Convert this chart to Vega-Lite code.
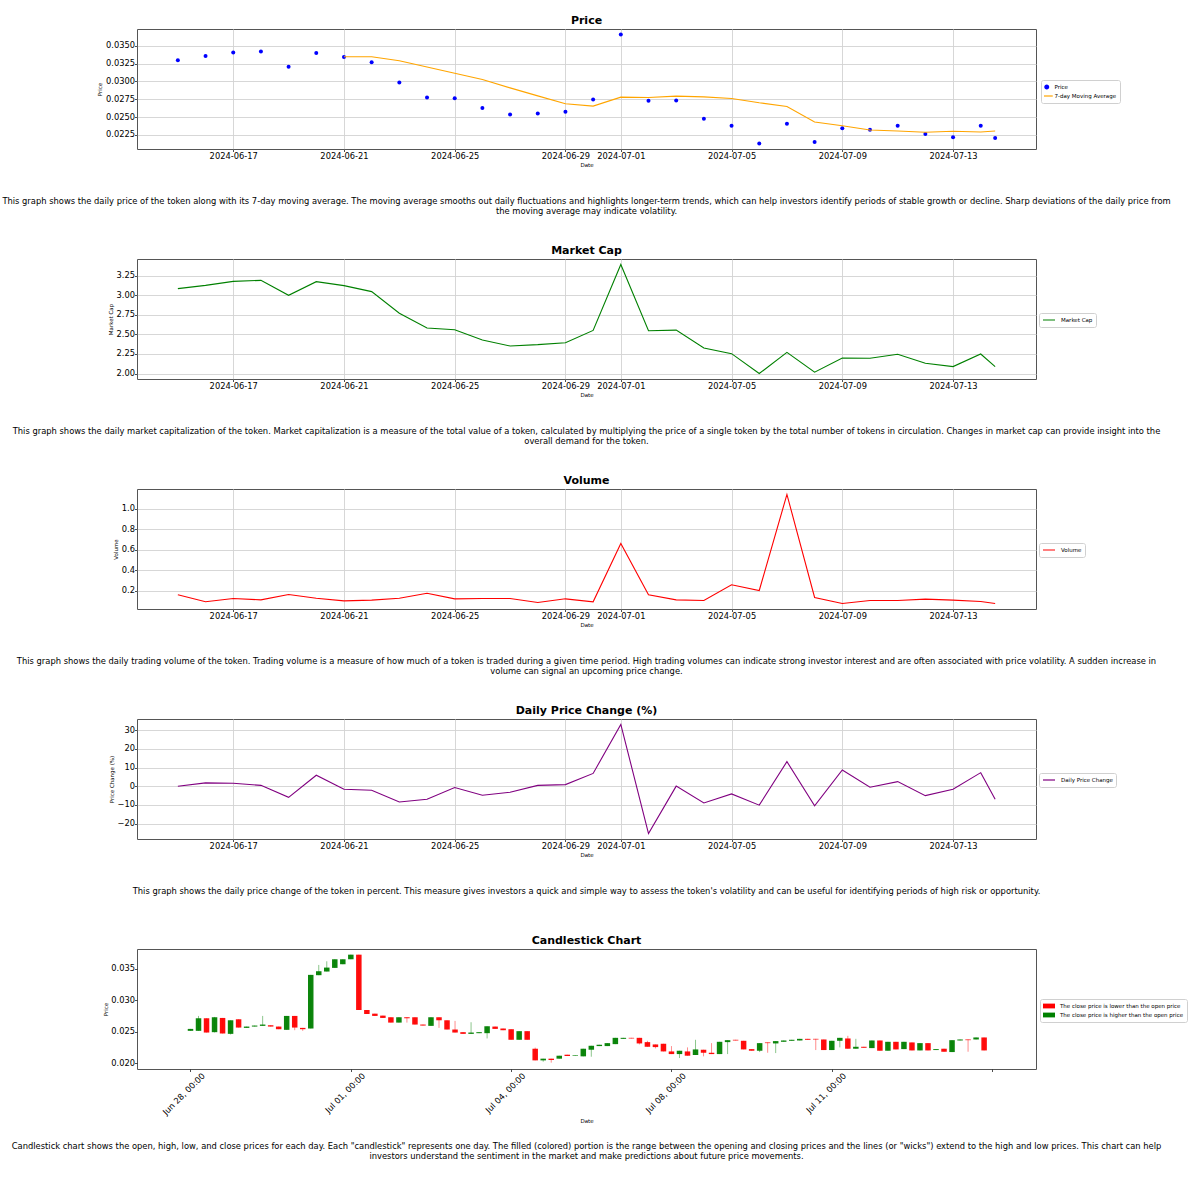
{
  "$schema": "https://vega.github.io/schema/vega-lite/v6.json",
  "padding": {"left": 2, "top": 14, "right": 5, "bottom": 5},
  "background": "white",
  "bounds": "flush",
  "spacing": 50,
  "resolve": {"scale": {"color": "independent", "x": "independent", "y": "independent"}, "legend": {"color": "independent"}, "axis": {"x": "independent", "y": "independent"}},
  "datasets": {
    "daily": [
      {"date": "2024-06-15T00:00:00Z", "price": 0.03296, "ma": null, "mcap": 30850000, "volume": 161000, "change": 0},
      {"date": "2024-06-16T00:00:00Z", "price": 0.03356, "ma": null, "mcap": 31270000, "volume": 93000, "change": 1.8},
      {"date": "2024-06-17T00:00:00Z", "price": 0.03407, "ma": null, "mcap": 31780000, "volume": 125000, "change": 1.6},
      {"date": "2024-06-18T00:00:00Z", "price": 0.03421, "ma": null, "mcap": 31910000, "volume": 112000, "change": 0.5},
      {"date": "2024-06-19T00:00:00Z", "price": 0.03207, "ma": null, "mcap": 30000000, "volume": 164000, "change": -5.9},
      {"date": "2024-06-20T00:00:00Z", "price": 0.03398, "ma": null, "mcap": 31740000, "volume": 128000, "change": 5.9},
      {"date": "2024-06-21T00:00:00Z", "price": 0.03342, "ma": 0.03347, "mcap": 31230000, "volume": 102000, "change": -1.6},
      {"date": "2024-06-22T00:00:00Z", "price": 0.03268, "ma": 0.03347, "mcap": 30470000, "volume": 109000, "change": -2.1},
      {"date": "2024-06-23T00:00:00Z", "price": 0.02984, "ma": 0.03291, "mcap": 27710000, "volume": 128000, "change": -8.4},
      {"date": "2024-06-24T00:00:00Z", "price": 0.02775, "ma": 0.03203, "mcap": 25810000, "volume": 177000, "change": -6.9},
      {"date": "2024-06-25T00:00:00Z", "price": 0.02766, "ma": 0.03114, "mcap": 25590000, "volume": 122000, "change": -0.7},
      {"date": "2024-06-26T00:00:00Z", "price": 0.02626, "ma": 0.03026, "mcap": 24280000, "volume": 125000, "change": -4.8},
      {"date": "2024-06-27T00:00:00Z", "price": 0.02538, "ma": 0.0291, "mcap": 23520000, "volume": 125000, "change": -3.2},
      {"date": "2024-06-28T00:00:00Z", "price": 0.02552, "ma": 0.02798, "mcap": 23690000, "volume": 86000, "change": 0.5},
      {"date": "2024-06-29T00:00:00Z", "price": 0.02575, "ma": 0.02687, "mcap": 23940000, "volume": 122000, "change": 0.9},
      {"date": "2024-06-30T00:00:00Z", "price": 0.02747, "ma": 0.02654, "mcap": 25510000, "volume": 93000, "change": 6.9},
      {"date": "2024-07-01T00:00:00Z", "price": 0.03658, "ma": 0.0278, "mcap": 33940000, "volume": 662000, "change": 33.1},
      {"date": "2024-07-02T00:00:00Z", "price": 0.02729, "ma": 0.02775, "mcap": 25470000, "volume": 161000, "change": -25.3},
      {"date": "2024-07-03T00:00:00Z", "price": 0.02733, "ma": 0.02794, "mcap": 25550000, "volume": 112000, "change": 0.1},
      {"date": "2024-07-04T00:00:00Z", "price": 0.02478, "ma": 0.02784, "mcap": 23260000, "volume": 106000, "change": -8.9},
      {"date": "2024-07-05T00:00:00Z", "price": 0.0238, "ma": 0.02761, "mcap": 22540000, "volume": 259000, "change": -4.1},
      {"date": "2024-07-06T00:00:00Z", "price": 0.02129, "ma": 0.02701, "mcap": 20000000, "volume": 203000, "change": -10.1},
      {"date": "2024-07-07T00:00:00Z", "price": 0.02408, "ma": 0.0265, "mcap": 22710000, "volume": 1140000, "change": 13.2},
      {"date": "2024-07-08T00:00:00Z", "price": 0.02152, "ma": 0.02431, "mcap": 20170000, "volume": 135000, "change": -10.5},
      {"date": "2024-07-09T00:00:00Z", "price": 0.02343, "ma": 0.0238, "mcap": 21990000, "volume": 76000, "change": 8.7},
      {"date": "2024-07-10T00:00:00Z", "price": 0.02324, "ma": 0.0232, "mcap": 21950000, "volume": 106000, "change": -0.5},
      {"date": "2024-07-11T00:00:00Z", "price": 0.0238, "ma": 0.02306, "mcap": 22460000, "volume": 106000, "change": 2.5},
      {"date": "2024-07-12T00:00:00Z", "price": 0.02264, "ma": 0.02287, "mcap": 21310000, "volume": 119000, "change": -5.0},
      {"date": "2024-07-13T00:00:00Z", "price": 0.02217, "ma": 0.02301, "mcap": 20890000, "volume": 109000, "change": -1.6},
      {"date": "2024-07-14T00:00:00Z", "price": 0.0238, "ma": 0.02292, "mcap": 22500000, "volume": 96000, "change": 7.3},
      {"date": "2024-07-14T12:30:00Z", "price": 0.02208, "ma": 0.02306, "mcap": 20890000, "volume": 76000, "change": -6.9}
    ],
    "candles": [
      {"i": 0, "o": 0.02516, "h": 0.02547, "l": 0.02516, "c": 0.02547, "dir": "up"},
      {"i": 1, "o": 0.02516, "h": 0.02753, "l": 0.02516, "c": 0.02716, "dir": "up"},
      {"i": 2, "o": 0.02716, "h": 0.02716, "l": 0.02489, "c": 0.02489, "dir": "down"},
      {"i": 3, "o": 0.02495, "h": 0.02737, "l": 0.0249, "c": 0.02732, "dir": "up"},
      {"i": 4, "o": 0.02721, "h": 0.02721, "l": 0.02474, "c": 0.02474, "dir": "down"},
      {"i": 5, "o": 0.02468, "h": 0.02684, "l": 0.02458, "c": 0.02684, "dir": "up"},
      {"i": 6, "o": 0.027, "h": 0.027, "l": 0.02568, "c": 0.02568, "dir": "down"},
      {"i": 7, "o": 0.02563, "h": 0.02584, "l": 0.02563, "c": 0.02584, "dir": "up"},
      {"i": 8, "o": 0.02584, "h": 0.026, "l": 0.02584, "c": 0.026, "dir": "up"},
      {"i": 9, "o": 0.02595, "h": 0.02753, "l": 0.02595, "c": 0.02616, "dir": "up"},
      {"i": 10, "o": 0.02605, "h": 0.02605, "l": 0.02584, "c": 0.02584, "dir": "down"},
      {"i": 11, "o": 0.02584, "h": 0.02584, "l": 0.02542, "c": 0.02542, "dir": "down"},
      {"i": 12, "o": 0.02532, "h": 0.02753, "l": 0.02532, "c": 0.02753, "dir": "up"},
      {"i": 13, "o": 0.02753, "h": 0.02753, "l": 0.02526, "c": 0.02568, "dir": "down"},
      {"i": 14, "o": 0.02563, "h": 0.02563, "l": 0.02516, "c": 0.02542, "dir": "down"},
      {"i": 15, "o": 0.02553, "h": 0.03405, "l": 0.02553, "c": 0.03405, "dir": "up"},
      {"i": 16, "o": 0.034, "h": 0.03563, "l": 0.034, "c": 0.03463, "dir": "up"},
      {"i": 17, "o": 0.03458, "h": 0.03621, "l": 0.03458, "c": 0.03521, "dir": "up"},
      {"i": 18, "o": 0.03516, "h": 0.03653, "l": 0.03516, "c": 0.03653, "dir": "up"},
      {"i": 19, "o": 0.03574, "h": 0.03653, "l": 0.03574, "c": 0.03653, "dir": "up"},
      {"i": 20, "o": 0.03653, "h": 0.03726, "l": 0.03653, "c": 0.03726, "dir": "up"},
      {"i": 21, "o": 0.03726, "h": 0.03726, "l": 0.02847, "c": 0.02847, "dir": "down"},
      {"i": 22, "o": 0.02847, "h": 0.02847, "l": 0.02784, "c": 0.02784, "dir": "down"},
      {"i": 23, "o": 0.02789, "h": 0.02789, "l": 0.02753, "c": 0.02753, "dir": "down"},
      {"i": 24, "o": 0.02758, "h": 0.02758, "l": 0.02721, "c": 0.02721, "dir": "down"},
      {"i": 25, "o": 0.02732, "h": 0.02732, "l": 0.02647, "c": 0.02647, "dir": "down"},
      {"i": 26, "o": 0.02647, "h": 0.02732, "l": 0.02647, "c": 0.02732, "dir": "up"},
      {"i": 27, "o": 0.02732, "h": 0.02732, "l": 0.02647, "c": 0.02716, "dir": "down"},
      {"i": 28, "o": 0.02732, "h": 0.02732, "l": 0.02616, "c": 0.02616, "dir": "down"},
      {"i": 29, "o": 0.02616, "h": 0.02616, "l": 0.026, "c": 0.026, "dir": "down"},
      {"i": 30, "o": 0.02595, "h": 0.02732, "l": 0.02595, "c": 0.02732, "dir": "up"},
      {"i": 31, "o": 0.02732, "h": 0.02732, "l": 0.02563, "c": 0.02684, "dir": "down"},
      {"i": 32, "o": 0.02684, "h": 0.02684, "l": 0.02537, "c": 0.02537, "dir": "down"},
      {"i": 33, "o": 0.02537, "h": 0.02674, "l": 0.02489, "c": 0.02489, "dir": "down"},
      {"i": 34, "o": 0.02495, "h": 0.02495, "l": 0.02468, "c": 0.02468, "dir": "down"},
      {"i": 35, "o": 0.02468, "h": 0.02653, "l": 0.02468, "c": 0.02489, "dir": "up"},
      {"i": 36, "o": 0.02479, "h": 0.02495, "l": 0.02479, "c": 0.02495, "dir": "up"},
      {"i": 37, "o": 0.02479, "h": 0.02589, "l": 0.02395, "c": 0.02589, "dir": "up"},
      {"i": 38, "o": 0.02584, "h": 0.02584, "l": 0.02547, "c": 0.02547, "dir": "down"},
      {"i": 39, "o": 0.02553, "h": 0.02553, "l": 0.02526, "c": 0.02526, "dir": "down"},
      {"i": 40, "o": 0.02542, "h": 0.02542, "l": 0.02374, "c": 0.02374, "dir": "down"},
      {"i": 41, "o": 0.02374, "h": 0.02511, "l": 0.02374, "c": 0.02511, "dir": "up"},
      {"i": 42, "o": 0.02511, "h": 0.02511, "l": 0.02374, "c": 0.02374, "dir": "down"},
      {"i": 43, "o": 0.02232, "h": 0.0225, "l": 0.02047, "c": 0.02047, "dir": "down"},
      {"i": 44, "o": 0.02047, "h": 0.02074, "l": 0.02026, "c": 0.02074, "dir": "up"},
      {"i": 45, "o": 0.02074, "h": 0.02074, "l": 0.02011, "c": 0.02053, "dir": "down"},
      {"i": 46, "o": 0.02074, "h": 0.02121, "l": 0.02074, "c": 0.02121, "dir": "up"},
      {"i": 47, "o": 0.02137, "h": 0.02137, "l": 0.02116, "c": 0.02116, "dir": "down"},
      {"i": 48, "o": 0.02116, "h": 0.02126, "l": 0.02116, "c": 0.02126, "dir": "up"},
      {"i": 49, "o": 0.02111, "h": 0.02232, "l": 0.02111, "c": 0.02232, "dir": "up"},
      {"i": 50, "o": 0.02216, "h": 0.02279, "l": 0.02105, "c": 0.02279, "dir": "up"},
      {"i": 51, "o": 0.02274, "h": 0.02295, "l": 0.02274, "c": 0.02295, "dir": "up"},
      {"i": 52, "o": 0.02274, "h": 0.02321, "l": 0.02274, "c": 0.02321, "dir": "up"},
      {"i": 53, "o": 0.02305, "h": 0.02405, "l": 0.02305, "c": 0.02405, "dir": "up"},
      {"i": 54, "o": 0.02389, "h": 0.02405, "l": 0.02389, "c": 0.02405, "dir": "up"},
      {"i": 55, "o": 0.02405, "h": 0.02405, "l": 0.02395, "c": 0.02395, "dir": "down"},
      {"i": 56, "o": 0.02405, "h": 0.02405, "l": 0.023, "c": 0.02316, "dir": "down"},
      {"i": 57, "o": 0.02337, "h": 0.02358, "l": 0.02263, "c": 0.02263, "dir": "down"},
      {"i": 58, "o": 0.023, "h": 0.023, "l": 0.02237, "c": 0.02258, "dir": "down"},
      {"i": 59, "o": 0.02311, "h": 0.02311, "l": 0.02189, "c": 0.02189, "dir": "down"},
      {"i": 60, "o": 0.02189, "h": 0.02274, "l": 0.02147, "c": 0.02147, "dir": "down"},
      {"i": 61, "o": 0.02147, "h": 0.022, "l": 0.02084, "c": 0.022, "dir": "up"},
      {"i": 62, "o": 0.02189, "h": 0.02253, "l": 0.02121, "c": 0.02121, "dir": "down"},
      {"i": 63, "o": 0.02132, "h": 0.02374, "l": 0.02132, "c": 0.02221, "dir": "up"},
      {"i": 64, "o": 0.02216, "h": 0.02216, "l": 0.02111, "c": 0.02168, "dir": "down"},
      {"i": 65, "o": 0.02168, "h": 0.02321, "l": 0.02147, "c": 0.02147, "dir": "down"},
      {"i": 66, "o": 0.02147, "h": 0.02342, "l": 0.02147, "c": 0.02342, "dir": "up"},
      {"i": 67, "o": 0.02337, "h": 0.02368, "l": 0.02147, "c": 0.02368, "dir": "up"},
      {"i": 68, "o": 0.02374, "h": 0.02374, "l": 0.02363, "c": 0.02363, "dir": "down"},
      {"i": 69, "o": 0.02358, "h": 0.02358, "l": 0.02221, "c": 0.02221, "dir": "down"},
      {"i": 70, "o": 0.02226, "h": 0.02226, "l": 0.022, "c": 0.022, "dir": "down"},
      {"i": 71, "o": 0.022, "h": 0.02321, "l": 0.02179, "c": 0.02321, "dir": "up"},
      {"i": 72, "o": 0.02332, "h": 0.02332, "l": 0.02168, "c": 0.02321, "dir": "down"},
      {"i": 73, "o": 0.02316, "h": 0.02353, "l": 0.02163, "c": 0.02353, "dir": "up"},
      {"i": 74, "o": 0.02342, "h": 0.02363, "l": 0.02342, "c": 0.02363, "dir": "up"},
      {"i": 75, "o": 0.02358, "h": 0.02374, "l": 0.02358, "c": 0.02374, "dir": "up"},
      {"i": 76, "o": 0.02363, "h": 0.02389, "l": 0.02363, "c": 0.02389, "dir": "up"},
      {"i": 77, "o": 0.02389, "h": 0.02389, "l": 0.02374, "c": 0.02374, "dir": "down"},
      {"i": 78, "o": 0.02389, "h": 0.02389, "l": 0.02211, "c": 0.02379, "dir": "down"},
      {"i": 79, "o": 0.02379, "h": 0.02379, "l": 0.02211, "c": 0.02211, "dir": "down"},
      {"i": 80, "o": 0.02211, "h": 0.02358, "l": 0.02211, "c": 0.02358, "dir": "up"},
      {"i": 81, "o": 0.02358, "h": 0.02405, "l": 0.02253, "c": 0.02405, "dir": "up"},
      {"i": 82, "o": 0.02395, "h": 0.02437, "l": 0.02232, "c": 0.02232, "dir": "down"},
      {"i": 83, "o": 0.02232, "h": 0.02389, "l": 0.02232, "c": 0.02263, "dir": "up"},
      {"i": 84, "o": 0.02263, "h": 0.02263, "l": 0.02247, "c": 0.02247, "dir": "down"},
      {"i": 85, "o": 0.02242, "h": 0.02363, "l": 0.02242, "c": 0.02363, "dir": "up"},
      {"i": 86, "o": 0.02363, "h": 0.02363, "l": 0.022, "c": 0.022, "dir": "down"},
      {"i": 87, "o": 0.022, "h": 0.02342, "l": 0.022, "c": 0.02342, "dir": "up"},
      {"i": 88, "o": 0.02342, "h": 0.02342, "l": 0.02221, "c": 0.02221, "dir": "down"},
      {"i": 89, "o": 0.02226, "h": 0.02342, "l": 0.02226, "c": 0.02342, "dir": "up"},
      {"i": 90, "o": 0.02332, "h": 0.02332, "l": 0.02205, "c": 0.02205, "dir": "down"},
      {"i": 91, "o": 0.02205, "h": 0.02321, "l": 0.02205, "c": 0.02321, "dir": "up"},
      {"i": 92, "o": 0.02321, "h": 0.02321, "l": 0.02205, "c": 0.02205, "dir": "down"},
      {"i": 93, "o": 0.02211, "h": 0.02226, "l": 0.02211, "c": 0.02226, "dir": "up"},
      {"i": 94, "o": 0.02232, "h": 0.02232, "l": 0.02184, "c": 0.02184, "dir": "down"},
      {"i": 95, "o": 0.02179, "h": 0.02368, "l": 0.02179, "c": 0.02368, "dir": "up"},
      {"i": 96, "o": 0.02363, "h": 0.02379, "l": 0.02363, "c": 0.02379, "dir": "up"},
      {"i": 97, "o": 0.02379, "h": 0.02379, "l": 0.02184, "c": 0.02368, "dir": "down"},
      {"i": 98, "o": 0.02379, "h": 0.02411, "l": 0.02379, "c": 0.02411, "dir": "up"},
      {"i": 99, "o": 0.02411, "h": 0.02411, "l": 0.02205, "c": 0.02205, "dir": "down"}
    ]
  },
  "vconcat": [
    {
      "width": 899, "height": 120,
      "title": {"text": "Price"},
      "data": {"name": "daily"},
      "encoding": {
        "x": {"field": "date", "type": "temporal", "title": "Date",
          "scale": {"type": "utc", "domain": [{"year": 2024, "month": 6, "date": 13, "hours": 12, "minutes": 35, "utc": true}, {"year": 2024, "month": 7, "date": 15, "hours": 23, "minutes": 55, "utc": true}]},
          "axis": {"format": "%Y-%m-%d", "labelOverlap": false, "labelFlush": false,
            "values": [{"year": 2024, "month": 6, "date": 17, "utc": true}, {"year": 2024, "month": 6, "date": 21, "utc": true}, {"year": 2024, "month": 6, "date": 25, "utc": true}, {"year": 2024, "month": 6, "date": 29, "utc": true}, {"year": 2024, "month": 7, "date": 1, "utc": true}, {"year": 2024, "month": 7, "date": 5, "utc": true}, {"year": 2024, "month": 7, "date": 9, "utc": true}, {"year": 2024, "month": 7, "date": 13, "utc": true}]}}
      },
      "layer": [
        {
          "mark": {"type": "point", "filled": true, "size": 16, "opacity": 1},
          "encoding": {
            "y": {"field": "price", "type": "quantitative", "title": "Price",
              "scale": {"domain": [0.02053, 0.03735], "nice": false, "zero": false},
              "axis": {"values": [0.0225, 0.025, 0.0275, 0.03, 0.0325, 0.035], "format": ".4f", "labelOverlap": false, "tickCount": 20}},
            "color": {"datum": "Price", "type": "nominal",
              "scale": {"domain": ["Price", "7-day Moving Average"], "range": ["#0000ff", "#ffa500"]},
              "legend": {"orient": "none", "legendX": 904, "legendY": 51, "title": null,
                "symbolType": {"expr": "datum.value === 'Price' ? 'circle' : 'stroke'"},
                "symbolSize": {"expr": "datum.value === 'Price' ? 12 : 144"},
                "symbolStrokeWidth": {"expr": "datum.value === 'Price' ? 1.5 : 1.2"}}}
          }
        },
        {
          "mark": {"type": "line", "strokeWidth": 1.1},
          "encoding": {
            "y": {"field": "ma", "type": "quantitative", "title": "Price"},
            "color": {"datum": "7-day Moving Average", "type": "nominal"}
          }
        }
      ]
    },
    {
      "width": 899, "height": 10, "view": {"stroke": null},
      "data": {"values": [{"caption": ["This graph shows the daily price of the token along with its 7-day moving average. The moving average smooths out daily fluctuations and highlights longer-term trends, which can help investors identify periods of stable growth or decline. Sharp deviations of the daily price from", "the moving average may indicate volatility."]}]},
      "mark": {"type": "text", "baseline": "top", "fontSize": 8.35, "lineHeight": 9.5, "dy": -7, "color": "#000"},
      "encoding": {"text": {"field": "caption", "type": "nominal"}}
    },
    {
      "width": 899, "height": 120,
      "title": {"text": "Market Cap"},
      "data": {"name": "daily"},
      "encoding": {
        "x": {"field": "date", "type": "temporal", "title": "Date",
          "scale": {"type": "utc", "domain": [{"year": 2024, "month": 6, "date": 13, "hours": 12, "minutes": 35, "utc": true}, {"year": 2024, "month": 7, "date": 15, "hours": 23, "minutes": 55, "utc": true}]},
          "axis": {"format": "%Y-%m-%d", "labelOverlap": false, "labelFlush": false,
            "values": [{"year": 2024, "month": 6, "date": 17, "utc": true}, {"year": 2024, "month": 6, "date": 21, "utc": true}, {"year": 2024, "month": 6, "date": 25, "utc": true}, {"year": 2024, "month": 6, "date": 29, "utc": true}, {"year": 2024, "month": 7, "date": 1, "utc": true}, {"year": 2024, "month": 7, "date": 5, "utc": true}, {"year": 2024, "month": 7, "date": 9, "utc": true}, {"year": 2024, "month": 7, "date": 13, "utc": true}]}}
      },
      "layer": [
        {
          "mark": {"type": "line", "strokeWidth": 1.1},
          "encoding": {
            "y": {"field": "mcap", "type": "quantitative", "title": "Market Cap",
              "scale": {"domain": [19303000, 34637000], "nice": false, "zero": false},
              "axis": {"values": [20000000, 22500000, 25000000, 27500000, 30000000, 32500000], "labelExpr": "format(datum.value / 1e7, '.2f')", "labelOverlap": false, "tickCount": 20}},
            "color": {"datum": "Market Cap", "type": "nominal",
              "scale": {"domain": ["Market Cap"], "range": ["#008000"]},
              "legend": {"orient": "none", "legendX": 902, "legendY": 54, "title": null}}
          }
        },
        {
          "data": {"values": [{"t": "1e7"}]},
          "mark": {"type": "text", "align": "left", "baseline": "bottom", "fontSize": 5.5, "dy": -1, "color": "#000"},
          "encoding": {
            "x": {"datum": {"year": 2024, "month": 6, "date": 13, "hours": 12, "minutes": 35, "utc": true}, "type": "temporal", "title": "Date"},
            "y": {"datum": 34637000, "type": "quantitative", "title": "Market Cap"},
            "text": {"field": "t", "type": "nominal"}
          }
        }
      ]
    },
    {
      "width": 899, "height": 10, "view": {"stroke": null},
      "data": {"values": [{"caption": ["This graph shows the daily market capitalization of the token. Market capitalization is a measure of the total value of a token, calculated by multiplying the price of a single token by the total number of tokens in circulation. Changes in market cap can provide insight into the", "overall demand for the token."]}]},
      "mark": {"type": "text", "baseline": "top", "fontSize": 8.35, "lineHeight": 9.5, "dy": -7, "color": "#000"},
      "encoding": {"text": {"field": "caption", "type": "nominal"}}
    },
    {
      "width": 899, "height": 120,
      "title": {"text": "Volume"},
      "data": {"name": "daily"},
      "encoding": {
        "x": {"field": "date", "type": "temporal", "title": "Date",
          "scale": {"type": "utc", "domain": [{"year": 2024, "month": 6, "date": 13, "hours": 12, "minutes": 35, "utc": true}, {"year": 2024, "month": 7, "date": 15, "hours": 23, "minutes": 55, "utc": true}]},
          "axis": {"format": "%Y-%m-%d", "labelOverlap": false, "labelFlush": false,
            "values": [{"year": 2024, "month": 6, "date": 17, "utc": true}, {"year": 2024, "month": 6, "date": 21, "utc": true}, {"year": 2024, "month": 6, "date": 25, "utc": true}, {"year": 2024, "month": 6, "date": 29, "utc": true}, {"year": 2024, "month": 7, "date": 1, "utc": true}, {"year": 2024, "month": 7, "date": 5, "utc": true}, {"year": 2024, "month": 7, "date": 9, "utc": true}, {"year": 2024, "month": 7, "date": 13, "utc": true}]}}
      },
      "layer": [
        {
          "mark": {"type": "line", "strokeWidth": 1.1},
          "encoding": {
            "y": {"field": "volume", "type": "quantitative", "title": "Volume",
              "scale": {"domain": [22800, 1193200], "nice": false, "zero": false},
              "axis": {"values": [200000, 400000, 600000, 800000, 1000000], "labelExpr": "format(datum.value / 1e6, '.1f')", "labelOverlap": false, "tickCount": 20}},
            "color": {"datum": "Volume", "type": "nominal",
              "scale": {"domain": ["Volume"], "range": ["#ff0000"]},
              "legend": {"orient": "none", "legendX": 902, "legendY": 54, "title": null}}
          }
        },
        {
          "data": {"values": [{"t": "1e6"}]},
          "mark": {"type": "text", "align": "left", "baseline": "bottom", "fontSize": 5.5, "dy": -1, "color": "#000"},
          "encoding": {
            "x": {"datum": {"year": 2024, "month": 6, "date": 13, "hours": 12, "minutes": 35, "utc": true}, "type": "temporal", "title": "Date"},
            "y": {"datum": 1193200, "type": "quantitative", "title": "Volume"},
            "text": {"field": "t", "type": "nominal"}
          }
        }
      ]
    },
    {
      "width": 899, "height": 10, "view": {"stroke": null},
      "data": {"values": [{"caption": ["This graph shows the daily trading volume of the token. Trading volume is a measure of how much of a token is traded during a given time period. High trading volumes can indicate strong investor interest and are often associated with price volatility. A sudden increase in", "volume can signal an upcoming price change."]}]},
      "mark": {"type": "text", "baseline": "top", "fontSize": 8.35, "lineHeight": 9.5, "dy": -7, "color": "#000"},
      "encoding": {"text": {"field": "caption", "type": "nominal"}}
    },
    {
      "width": 899, "height": 120,
      "title": {"text": "Daily Price Change (%)"},
      "data": {"name": "daily"},
      "encoding": {
        "x": {"field": "date", "type": "temporal", "title": "Date",
          "scale": {"type": "utc", "domain": [{"year": 2024, "month": 6, "date": 13, "hours": 12, "minutes": 35, "utc": true}, {"year": 2024, "month": 7, "date": 15, "hours": 23, "minutes": 55, "utc": true}]},
          "axis": {"format": "%Y-%m-%d", "labelOverlap": false, "labelFlush": false,
            "values": [{"year": 2024, "month": 6, "date": 17, "utc": true}, {"year": 2024, "month": 6, "date": 21, "utc": true}, {"year": 2024, "month": 6, "date": 25, "utc": true}, {"year": 2024, "month": 6, "date": 29, "utc": true}, {"year": 2024, "month": 7, "date": 1, "utc": true}, {"year": 2024, "month": 7, "date": 5, "utc": true}, {"year": 2024, "month": 7, "date": 9, "utc": true}, {"year": 2024, "month": 7, "date": 13, "utc": true}]}}
      },
      "layer": [
        {
          "mark": {"type": "line", "strokeWidth": 1.1},
          "encoding": {
            "y": {"field": "change", "type": "quantitative", "title": "Price Change (%)",
              "scale": {"domain": [-28.22, 36.02], "nice": false, "zero": false},
              "axis": {"values": [-20, -10, 0, 10, 20, 30], "labelExpr": "replace(format(datum.value, 'd'), '-', '\u2212')", "labelOverlap": false, "tickCount": 20}},
            "color": {"datum": "Daily Price Change", "type": "nominal",
              "scale": {"domain": ["Daily Price Change"], "range": ["#800080"]},
              "legend": {"orient": "none", "legendX": 902, "legendY": 54, "title": null}}
          }
        }
      ]
    },
    {
      "width": 899, "height": 10, "view": {"stroke": null},
      "data": {"values": [{"caption": ["This graph shows the daily price change of the token in percent. This measure gives investors a quick and simple way to assess the token's volatility and can be useful for identifying periods of high risk or opportunity."]}]},
      "mark": {"type": "text", "baseline": "top", "fontSize": 8.35, "lineHeight": 9.5, "dy": -7, "color": "#000"},
      "encoding": {"text": {"field": "caption", "type": "nominal"}}
    },
    {
      "width": 899, "height": 120,
      "title": {"text": "Candlestick Chart"},
      "data": {"name": "candles"},
      "encoding": {
        "x": {"field": "i", "type": "quantitative", "title": "Date",
          "scale": {"domain": [-6.05, 104.85], "nice": false, "zero": false},
          "axis": {"grid": false, "values": [0, 20, 40, 60, 80, 100], "labelAngle": -45, "labelAlign": "right", "labelBaseline": "middle", "labelOffset": 13, "labelPadding": 3, "labelOverlap": false, "labelFlush": false,
            "labelExpr": "datum.value == 0 ? 'Jun 28, 00:00' : datum.value == 20 ? 'Jul 01, 00:00' : datum.value == 40 ? 'Jul 04, 00:00' : datum.value == 60 ? 'Jul 08, 00:00' : datum.value == 80 ? 'Jul 11, 00:00' : ''"}},
        "color": {"field": "dir", "type": "nominal",
          "scale": {"domain": ["down", "up"], "range": ["#ff0000", "#008000"]},
          "legend": {"orient": "none", "legendX": 903, "legendY": 50, "title": null,
            "symbolType": "M-1,-0.4H1V0.4H-1Z", "symbolSize": 144, "symbolStrokeWidth": 0, "symbolOpacity": 1,
            "labelExpr": "datum.value == 'down' ? 'The close price is lower than the open price' : 'The close price is higher than the open price'"}}
      },
      "layer": [
        {
          "mark": {"type": "bar", "orient": "vertical", "width": 5.5, "opacity": 0.95},
          "encoding": {
            "y": {"field": "o", "type": "quantitative", "title": "Price",
              "scale": {"domain": [0.0191, 0.03816], "nice": false, "zero": false},
              "axis": {"grid": false, "values": [0.02, 0.025, 0.03, 0.035], "format": ".3f", "labelOverlap": false, "tickCount": 20}},
            "y2": {"field": "c"}
          }
        },
        {
          "mark": {"type": "rule", "strokeWidth": 1, "opacity": 0.45},
          "encoding": {
            "y": {"field": "l", "type": "quantitative", "title": "Price"},
            "y2": {"field": "h"}
          }
        }
      ]
    },
    {
      "width": 899, "height": 10, "view": {"stroke": null},
      "data": {"values": [{"caption": ["Candlestick chart shows the open, high, low, and close prices for each day. Each \"candlestick\" represents one day. The filled (colored) portion is the range between the opening and closing prices and the lines (or \"wicks\") extend to the high and low prices. This chart can help", "investors understand the sentiment in the market and make predictions about future price movements."]}]},
      "mark": {"type": "text", "baseline": "top", "fontSize": 8.35, "lineHeight": 9.5, "dy": 18, "color": "#000"},
      "encoding": {"text": {"field": "caption", "type": "nominal"}}
    }
  ],
  "config": {
    "font": "DejaVu Sans",
    "view": {"stroke": "#555555", "strokeWidth": 1},
    "axis": {"domain": false, "grid": true, "gridColor": "#d3d3d3", "gridWidth": 0.9, "tickColor": "#222222", "tickSize": 2.5, "tickWidth": 0.8,
      "labelFontSize": 8.3, "labelColor": "#000000", "labelPadding": 0, "labelOverlap": false, "titleFontSize": 5.5, "titleFontWeight": "normal", "titleColor": "#000000", "titlePadding": 2.5},
    "title": {"fontSize": 11, "fontWeight": "bold", "offset": 3, "color": "#000000", "anchor": "middle"},
    "legend": {"labelFontSize": 5.5, "labelColor": "#000000", "strokeColor": "#d0d0d0", "fillColor": "#ffffff", "padding": 3, "cornerRadius": 2,
      "symbolType": "stroke", "symbolSize": 144, "symbolStrokeWidth": 1.2, "labelOffset": 5, "rowPadding": 1, "clipHeight": 8}
  }
}
